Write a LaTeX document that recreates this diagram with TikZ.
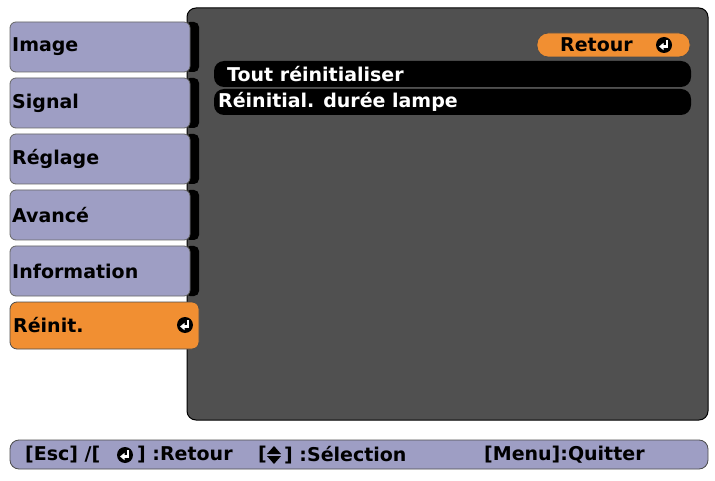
\documentclass[tikz,border=0pt]{standalone}
\usepackage{fontspec}
\setmainfont{DejaVu Sans}
\usetikzlibrary{calc,arrows.meta}
\definecolor{lav}{HTML}{9E9EC4}
\definecolor{org}{HTML}{F18F32}
\definecolor{panel}{HTML}{505050}
\tikzset{
 tab/.style={fill=lav,draw=black!60,line width=0.8pt,rounded corners=6pt},
 tabtxt/.style={anchor=west,font=\fontsize{19}{19}\selectfont\bfseries,inner sep=0pt},
 bar/.style={fill=black,rounded corners=10pt},
 bartxt/.style={anchor=west,text=white,font=\fontsize{19}{19}\selectfont\bfseries,inner sep=0pt},
 foot/.style={font=\fontsize{19}{19}\selectfont\bfseries,inner sep=0pt,anchor=west}
}
\newcommand{\enterico}[1]{%
 \fill[black] #1 circle (8);
 \draw[white,line width=2.4pt,-{Triangle[length=4.5pt,width=7pt]}] ($#1+(3,-5)$) -- ($#1+(3,1.5)$) -- ($#1+(-5,1.5)$);}
\begin{document}
\begin{tikzpicture}[x=1pt,y=-1pt]
\useasboundingbox (0,0) rectangle (715,481);
\fill[panel,draw=black,line width=1pt,rounded corners=9pt] (187,8) rectangle (708,420);
\foreach \y/\t in {22/Image,78/Signal,134/Réglage,190/Avancé,246/Information}{
  \fill[black,rounded corners=5pt] (185,\y) rectangle (199,\y+50);
  \draw[tab] (10,\y) rectangle (190,\y+50);
  \node[tabtxt] at (12,\y+25) {\t};
}
\draw[fill=org,draw=black!70,line width=0.8pt,rounded corners=7pt] (10,302) rectangle (199,349);
\node[tabtxt] (r) at (13,325) {Réinit.};
\enterico{(185,325)}
\draw[fill=org,draw=black!70,line width=0.8pt,rounded corners=11pt] (537,33) rectangle (690,57);
\node[tabtxt] (ret) at (560,45) {Retour};
\enterico{(664,45)}
\fill[bar] (214,61) rectangle (691,87);
\fill[bar] (214,89) rectangle (691,115);
\node[bartxt] (t1) at (227,74) {Tout réinitialiser};
\node[bartxt] (t2) at (218,102) {Réinitial. durée lampe};
\draw[fill=lav,draw=black!70,line width=0.8pt,rounded corners=9pt] (10,440) rectangle (708,469);
\node[foot] (f1) at (25,455) {[Esc] /[};
\enterico{(125,455)}
\node[foot] (f2) at (137,455) {] :Retour};
\node[foot] (f3) at (258,455) {[};
\fill (267,454) -- (274,446) -- (281,454) -- cycle;
\fill (267,456) -- (274,464) -- (281,456) -- cycle;
\node[foot] (f4) at (284,455) {] :Sélection};
\node[foot] (f5) at (484,455) {[Menu]:Quitter};
\end{tikzpicture}
\end{document}
